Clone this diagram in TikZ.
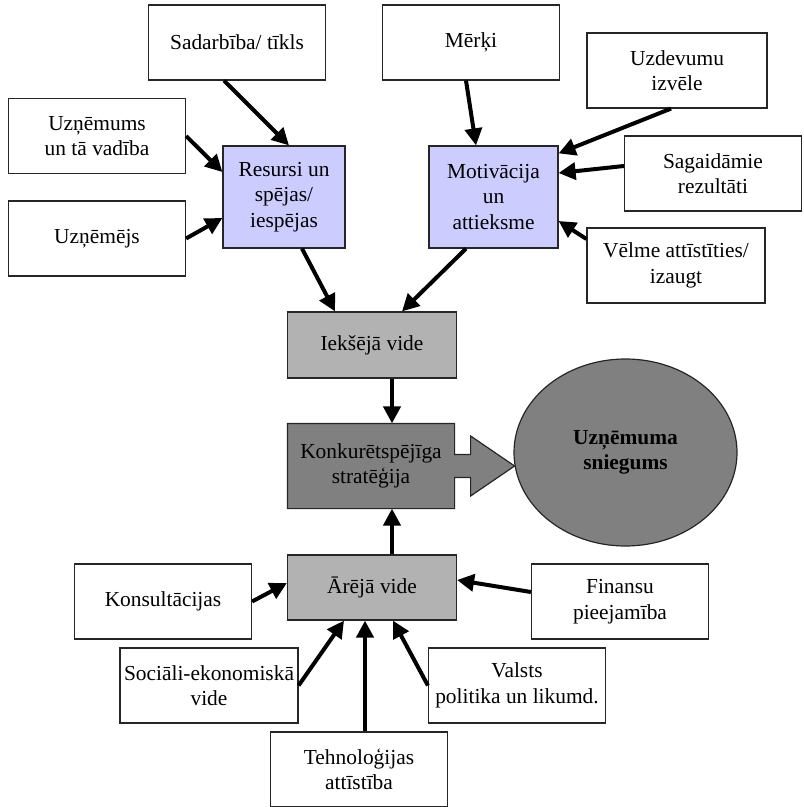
\documentclass[tikz,border=0pt]{standalone}
\usepackage{fontspec}
\setmainfont{Liberation Serif}
\usetikzlibrary{arrows.meta}
\usetikzlibrary{shapes.geometric,backgrounds}
\definecolor{lavanda}{RGB}{204,204,255}
\definecolor{gaisi}{RGB}{178,178,178}
\definecolor{tumsi}{RGB}{128,128,128}

\begin{document}
\begin{tikzpicture}[x=0.5pt,y=-0.5pt,
	kaste/.style={draw=black!85,line width=0.6pt,align=center,inner sep=2pt,minimum width=88.5pt,minimum height=37.5pt,font=\fontsize{10.7}{12.75}\selectfont},
	zila/.style={kaste,fill=lavanda,minimum width=61pt,minimum height=51pt},
	vide/.style={kaste,fill=gaisi,minimum width=84.5pt,minimum height=33pt},
	bulta/.style={-{Triangle[length=8.5pt,width=8.5pt]},line width=2pt}]
				\useasboundingbox (0,0) rectangle (803,807);
				% Kastes
				\node[kaste] (sad) at (237,42.5) {Sadarbība/ tīkls};
				\node[kaste] (merki) at (471,42.5) {Mērķi};
				\node[kaste,minimum width=90pt] (uzdev) at (677,70.5) {Uzdevumu\\izvēle};
				\node[kaste] (uznvad) at (97,136) {Uzņēmums\\un tā vadība};
				\node[kaste] (uznej) at (97,238.5) {Uzņēmējs};
				\node[zila] (res) at (284,197) {Resursi un\\spējas/\\iespējas};
				\node[zila,minimum width=64.5pt] (motiv) at (493.5,197) {Motivācija\\un\\attieksme};
				\node[kaste] (sagaid) at (713,173.5) {Sagaidāmie\\rezultāti};
				\node[kaste,minimum width=89pt] (velme) at (676,265.5) {Vēlme attīstīties/\\izaugt};
				\node[vide] (ieks) at (372,345) {Iekšējā vide};
				\node[kaste,draw=none,minimum width=83pt,minimum height=42pt] (konk) at (371,466) {Konkurētspējīga\\stratēģija};
				\node[ellipse,draw=black!85,fill=tumsi,line width=0.6pt,minimum width=111.5pt,minimum height=93.5pt,inner sep=0pt,align=center,font=\fontsize{10.7}{12.75}\selectfont\bfseries] (snieg) at (625.5,452.5) {Uzņēmuma\\sniegums};
				\node[vide,minimum height=32.5pt] (arej) at (372,587.5) {Ārējā vide};
				\node[kaste] (konsult) at (163,601.5) {Konsultācijas};
				\node[kaste] (finans) at (620,601.5) {Finansu\\pieejamība};
				\node[kaste] (soc) at (209,685.5) {Sociāli-ekonomiskā\\vide};
				\node[kaste] (valsts) at (517,685.5) {Valsts\\politika un likumd.};
				\node[kaste] (tehn) at (359,769.5) {Tehnoloģijas\\attīstība};
				% Stratēģijas bulta
				\begin{scope}[on background layer]
				\draw[draw=black!85,fill=tumsi,line width=0.6pt] (konk.north west) -- (konk.north east) -- ([yshift=5.75pt]konk.east) -- ++(16,0) -- ++(0,-18.5) -- ++(44,30) -- ++(-44,30) -- ++(0,-18.5) -- ++(-16,0) -- (konk.south east) -- (konk.south west) -- cycle;
				\end{scope}
				% Bultas
				\draw[bulta] ([xshift=-6.5pt]sad.south) -- ([xshift=2.5pt]res.north);
				\draw[bulta] ([xshift=-2.5pt]merki.south) -- ([xshift=-8.75pt]motiv.north);
				\draw[bulta] ([xshift=-3pt]uzdev.south) -- ([yshift=-4pt]motiv.north east);
				\draw[bulta] ([yshift=3.75pt]sagaid.west) -- ([yshift=12pt]motiv.east);
				\draw[bulta] ([yshift=13.25pt]velme.west) -- ([yshift=-12pt]motiv.east);
				\draw[bulta] (uznvad.east) -- ([yshift=12.5pt]res.west);
				\draw[bulta] (uznej.east) -- ([yshift=-10.5pt]res.west);
				\draw[bulta] ([xshift=9pt]res.south) -- ([xshift=-18.5pt]ieks.north);
				\draw[bulta] ([xshift=-13.75pt]motiv.south) -- ([xshift=15pt]ieks.north);
				\draw[bulta] ([xshift=10pt]ieks.south) -- ([xshift=10.5pt]konk.north);
				\draw[bulta] ([xshift=10pt]arej.north) -- ([xshift=10.5pt]konk.south);
				\draw[bulta] (konsult.east) -- ([yshift=2.25pt]arej.west);
				\draw[bulta] ([yshift=4.75pt]finans.west) -- ([yshift=3.75pt]arej.east);
				\draw[bulta] (soc.east) -- ([xshift=-14pt]arej.south);
				\draw[bulta,line width=2.4pt] ([xshift=3pt]tehn.north) -- ([xshift=-3.5pt]arej.south);
				\draw[bulta] (valsts.west) -- ([xshift=10.5pt]arej.south);
\end{tikzpicture}
\end{document}
